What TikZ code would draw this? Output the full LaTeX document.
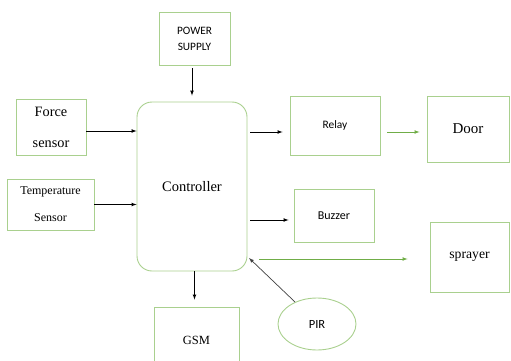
\documentclass[tikz,border=0pt]{standalone}
\usepackage{fontspec}
\setmainfont{Liberation Serif}
\newfontfamily\calib{Carlito}
\usetikzlibrary{shapes.geometric}
\definecolor{boxgreen}{RGB}{169,208,142}
\definecolor{arrgreen}{RGB}{112,173,71}
\tikzset{
  blk/.style={draw=boxgreen, line width=0.9pt, inner sep=0pt, align=center},
  arr/.style={->, >=latex, line width=0.7pt},
  garr/.style={arr, draw=arrgreen}
}
\begin{document}
\begin{tikzpicture}[x=1pt, y=-1pt]
    \useasboundingbox (0,0) rectangle (511,361);
    \clip (0,0) rectangle (511,361);
    % blocks
    \node[blk, minimum width=71pt, minimum height=53pt, font=\calib\fontsize{11.3}{16}\selectfont] (power) at (194.5,38.5) {POWER\\SUPPLY};
    \node[blk, minimum width=110pt, minimum height=169pt, rounded corners=15pt, font=\fontsize{14.5}{16}\selectfont] (ctrl) at (192,186.5) {Controller};
    \node[blk, minimum width=70pt, minimum height=56pt, font=\fontsize{14.3}{31}\selectfont] (force) at (51,127) {Force\\sensor};
    \node[blk, minimum width=87pt, minimum height=51pt, font=\fontsize{12}{27}\selectfont] (temp) at (50.5,204.5) {Temperature\\Sensor};
    \node[blk, minimum width=90pt, minimum height=59pt, font=\calib\fontsize{11.4}{13}\selectfont] (relay) at (335,125.5) {Relay};
    \node[blk, minimum width=82pt, minimum height=66pt, font=\fontsize{15}{17}\selectfont] (door) at (468,129) {Door};
    \node[blk, minimum width=80pt, minimum height=53pt, font=\calib\fontsize{12}{14}\selectfont] (buzzer) at (334,215.5) {Buzzer};
    \node[blk, minimum width=79pt, minimum height=70pt, font=\fontsize{13.7}{16}\selectfont] (spray) at (469.5,257) {sprayer};
    \node[blk, ellipse, minimum width=78pt, minimum height=52pt, font=\calib\fontsize{12.5}{14}\selectfont] (pir) at (317,324) {PIR};
    \node[blk, minimum width=85pt, minimum height=66pt, font=\fontsize{12.5}{14}\selectfont] (gsm) at (196.5,340) {GSM};
    \coordinate (pirin) at (249,258);
    % connectors
    \draw[arr, shorten <=3pt, shorten >=6pt] (power.south -| ctrl.north) -- (ctrl.north);
    \draw[arr] ([yshift=-4pt]force.east) -- ([yshift=-4pt]force.east -| ctrl.west);
    \draw[arr] (temp.east) -- (temp.east -| ctrl.west);
    \draw[arr, shorten <=3pt, shorten >=7pt] ([yshift=-6.5pt]relay.west -| ctrl.east) -- ([yshift=-6.5pt]relay.west);
    \draw[garr, shorten <=7pt, shorten >=7pt] ([yshift=-6.5pt]relay.east) -- ([yshift=-6.5pt]relay.east -| door.west);
    \draw[arr, shorten <=3pt, shorten >=5pt] ([yshift=-4.5pt]buzzer.west -| ctrl.east) -- ([yshift=-4.5pt]buzzer.west);
    \draw[garr, shorten <=12pt, shorten >=22pt] ([yshift=-2pt]spray.west -| ctrl.east) -- ([yshift=-2pt]spray.west);
    \draw[arr, draw=black!75] (pir.135) -- (pirin);
    \draw[arr, shorten >=7pt] (ctrl.south -| power.south) -- (gsm.north -| power.south);
\end{tikzpicture}
\end{document}
